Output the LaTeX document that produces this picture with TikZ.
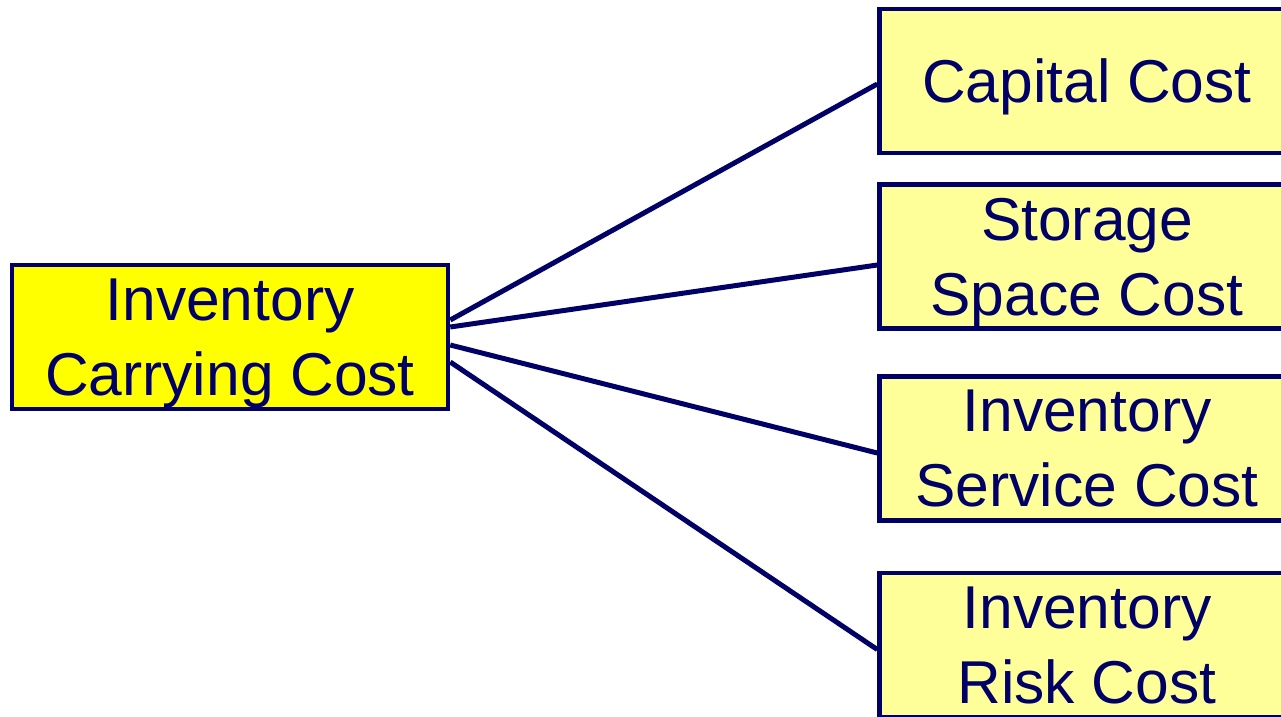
\documentclass[tikz,border=0pt]{standalone}
\usepackage{fontspec}
\setmainfont{Liberation Sans}
\definecolor{navy}{HTML}{000066}
\definecolor{brightyellow}{HTML}{FFFF00}
\definecolor{paleyellow}{HTML}{FFFF99}
\tikzset{
costbox/.style={draw=navy, line width=4.5pt, fill=paleyellow, text=navy, align=center,
  minimum width=415pt, minimum height=144pt, inner sep=0pt,
  font=\fontsize{60.5}{75}\selectfont, text depth=0pt},
mainbox/.style={costbox, fill=brightyellow, minimum width=436pt},
link/.style={draw=navy, line width=5pt}
}
\begin{document}
\begin{tikzpicture}[x=1pt,y=-1pt]
\useasboundingbox (0,0) rectangle (1281,716);
\clip (0,0) rectangle (1281,716);
\node[mainbox] (carry) at (230,337) {Inventory\\Carrying Cost};
\node[costbox] (capital) at (1087,81) {Capital Cost};
\node[costbox] (storage) at (1087,256.5) {Storage\\Space Cost};
\node[costbox] (service) at (1087,448.5) {Inventory\\Service Cost};
\node[costbox] (risk) at (1087,645) {Inventory\\Risk Cost};

\draw[link] ([yshift=17pt]carry.east) -- ([yshift=-3pt]capital.west);
\draw[link] ([yshift=10pt]carry.east) -- ([yshift=-8.5pt]storage.west);
\draw[link] ([yshift=-8pt]carry.east) -- ([yshift=-4.5pt]service.west);
\draw[link] ([yshift=-25pt]carry.east) -- ([yshift=-4.5pt]risk.west);
\end{tikzpicture}
\end{document}
